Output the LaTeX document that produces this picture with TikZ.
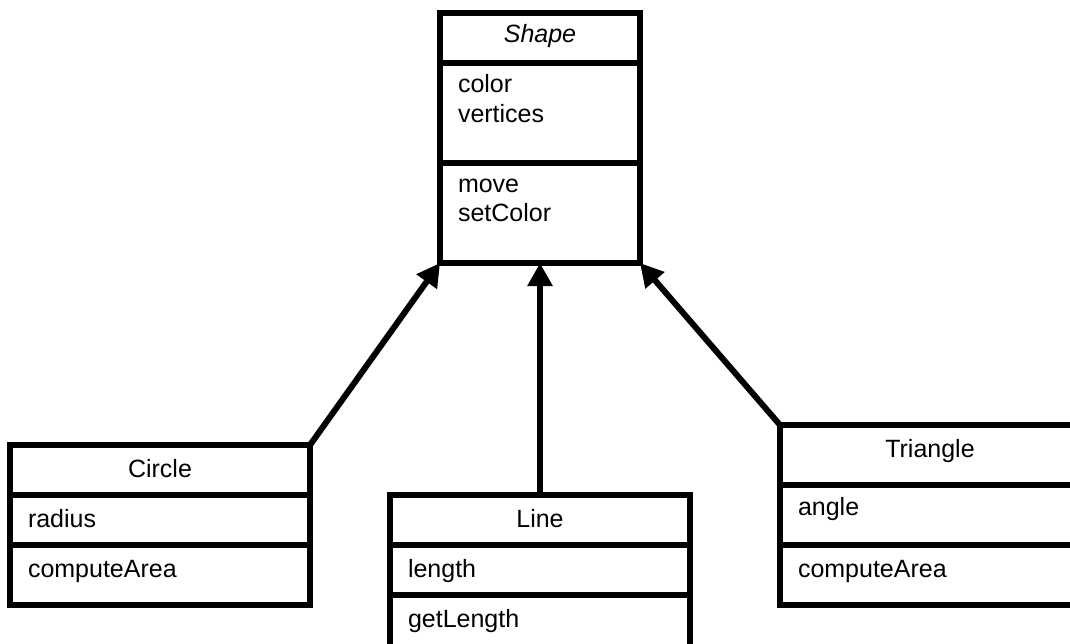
\documentclass[tikz,border=0pt]{standalone}
\usepackage{fontspec}
\setmainfont{Liberation Sans}
\usetikzlibrary{arrows.meta}

\begin{document}
\begin{tikzpicture}[x = 1pt, y = -1pt, line width = 6pt,
                        part/.style = {rectangle, draw, inner sep = 0pt, outer sep = 0pt, anchor = north west},
                        member/.style = {anchor = base west, inner sep = 0pt, font = \fontsize{25}{30}\selectfont},
                        classname/.style = {anchor = base, inner sep = 0pt, font = \fontsize{25}{30}\selectfont},
                        isa/.style = {-{Triangle[length = 23pt, width = 24pt]}}]
      \useasboundingbox (0, 0) rectangle (1070, 644);
      % Shape
      \node [part, minimum width = 200pt, minimum height = 50pt] (shapeTop) at (440, 13){};
      \node [part, minimum width = 200pt, minimum height = 100pt] (shapeAttr) at (440, 63){};
      \node [part, minimum width = 200pt, minimum height = 100pt] (shapeOps) at (440, 163){};
      \node [classname, font = \fontsize{25}{30}\selectfont\itshape] (shapeName) at (540, 43){Shape};
      \node [member] (shapeA1) at (455, 93){color};
      \node [member] (shapeA2) at (455, 123){vertices};
      \node [member] (shapeO1) at (455, 193){move};
      \node [member] (shapeO2) at (455, 222){setColor};
      % Circle
      \node [part, minimum width = 300pt, minimum height = 50pt] (circleTop) at (10, 445){};
      \node [part, minimum width = 300pt, minimum height = 50pt] (circleAttr) at (10, 495){};
      \node [part, minimum width = 300pt, minimum height = 60pt] (circleOps) at (10, 545){};
      \node [classname] (circleName) at (160, 477){Circle};
      \node [member] (circleA1) at (25, 527){radius};
      \node [member] (circleO1) at (25, 577){computeArea};
      % Line
      \node [part, minimum width = 300pt, minimum height = 50pt] (lineTop) at (390, 495){};
      \node [part, minimum width = 300pt, minimum height = 50pt] (lineAttr) at (390, 545){};
      \node [part, minimum width = 300pt, minimum height = 60pt] (lineOps) at (390, 595){};
      \node [classname] (lineName) at (540, 527){Line};
      \node [member] (lineA1) at (405, 577){length};
      \node [member] (lineO1) at (405, 627){getLength};
      % Triangle
      \node [part, minimum width = 300pt, minimum height = 60pt] (triTop) at (780, 425){};
      \node [part, minimum width = 300pt, minimum height = 60pt] (triAttr) at (780, 485){};
      \node [part, minimum width = 300pt, minimum height = 60pt] (triOps) at (780, 545){};
      \node [classname] (triName) at (930, 457){Triangle};
      \node [member] (triA1) at (795, 515){angle};
      \node [member] (triO1) at (795, 577){computeArea};
      % generalisation
      \draw [isa] (circleTop.north east) -- (shapeOps.south west);
      \draw [isa] (lineTop.north) -- (shapeOps.south);
      \draw [isa] (triTop.north west) -- (shapeOps.south east);
    \end{tikzpicture}
\end{document}
